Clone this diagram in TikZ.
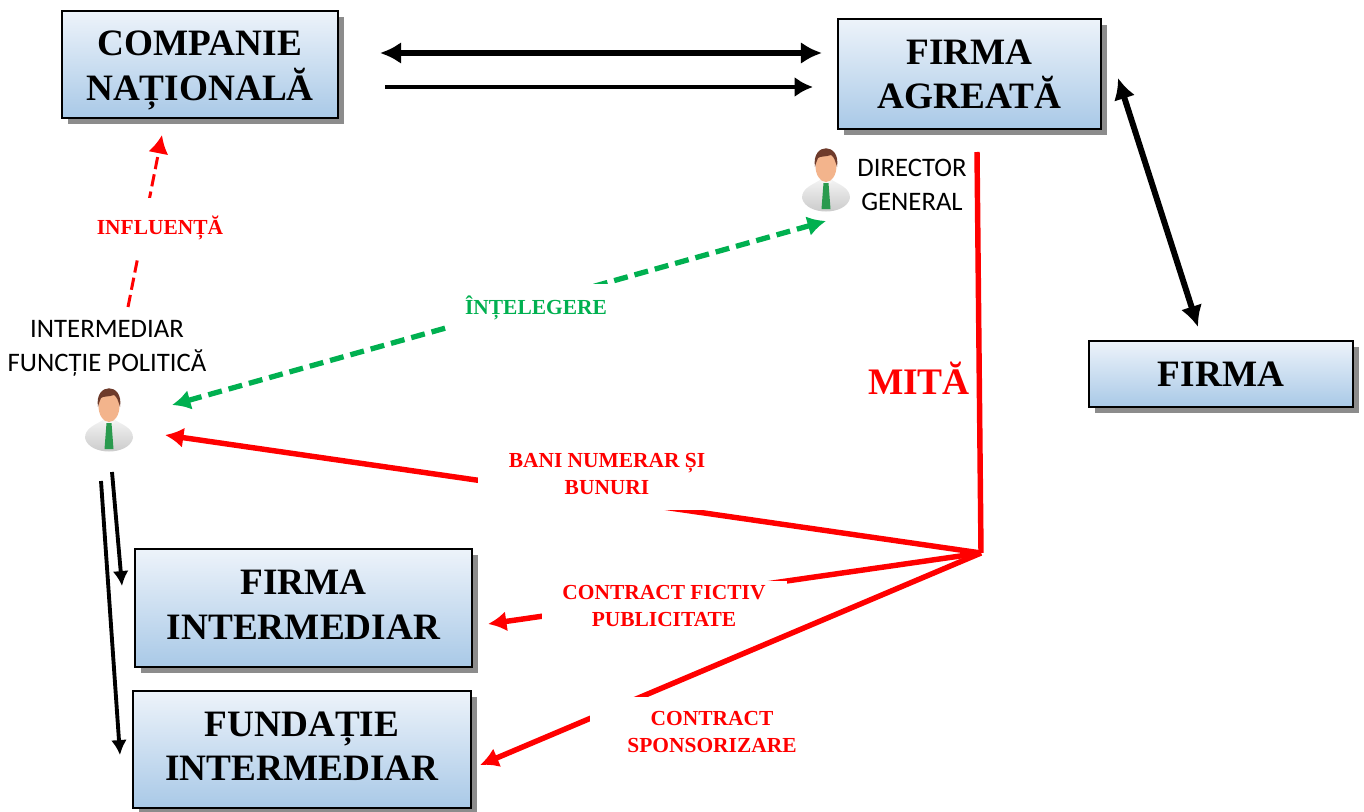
\documentclass[tikz,border=0pt]{standalone}
\usepackage{fontspec}
\setmainfont{Liberation Serif}
\newfontfamily\labelfont{Carlito}
\usetikzlibrary{arrows.meta,shadows}
\definecolor{boxtop}{HTML}{EDF3FA}
\definecolor{boxbot}{HTML}{A9C9E7}
\definecolor{mitared}{HTML}{FF0000}
\definecolor{dealgreen}{HTML}{00B050}
\definecolor{skin}{HTML}{F3B48C}
\definecolor{hair}{HTML}{6E3B2B}
\definecolor{tie}{HTML}{2A9A4E}
\tikzstyle{int}=[draw=black, line width=1.1pt, top color=boxtop, bottom color=boxbot, align=center, inner sep=0pt, font=\fontsize{21.2}{25.5}\selectfont\bfseries, general shadow={fill=black!45, shadow xshift=3.4pt, shadow yshift=-3.4pt}]
\tikzstyle{lab}=[fill=white, inner sep=0pt, align=center, text=mitared, font=\fontsize{12.2}{15.2}\selectfont\bfseries]
\tikzstyle{who}=[inner sep=0pt, align=center, font=\labelfont\fontsize{15.2}{19.3}\selectfont]
\tikzset{
  bigtip/.tip={Latex[length=12pt,width=12.5pt]},
  midtip/.tip={Latex[length=10.5pt,width=11.5pt]},
  smalltip/.tip={Latex[length=8.5pt,width=9pt]},
  blk/.style={black,line width=2.2pt},
  redl/.style={mitared,line width=3.1pt},
  person/.pic={
    \shade[top color=gray!10,bottom color=gray!45] (-24,18) .. controls (-24,8) and (-14,5) .. (-6,0) -- (6,0) .. controls (14,5) and (24,8) .. (24,18) .. controls (20,36) and (-20,36) .. (-24,18) -- cycle;
    \fill[white!92!gray] (-7,1) -- (0,7) -- (7,1) -- (4,-4) -- (-4,-4) -- cycle;
    \fill[tie] (-2.5,3) -- (2.5,3) -- (4.5,29) -- (-4.5,29) -- cycle;
    \fill[skin] (0,-14) ellipse (10.5 and 16);
    \fill[hair] (-11,-13) .. controls (-15,-38) and (15,-38) .. (11,-13) .. controls (9,-20) and (8,-23) .. (5,-25) .. controls (0,-23) and (-6,-24) .. (-8,-22) .. controls (-9,-20) and (-10,-17) .. (-11,-13) -- cycle;
  }
}
\begin{document}
\begin{tikzpicture}[x=0.02cm,y=-0.02cm,>=latex]
\useasboundingbox (0,0) rectangle (1364,811);

\node[int, minimum width=276*0.02cm, minimum height=107*0.02cm] at (200,64.5) (compania) {\rule{0pt}{22.95pt}COMPANIE\\\strut NAȚIONALĂ};
\node[int, minimum width=263*0.02cm, minimum height=110*0.02cm] at (969.5,74) (agreata) {\rule{0pt}{21.85pt}FIRMA\\\strut AGREATĂ};
\node[int, minimum width=264*0.02cm, minimum height=66*0.02cm] at (1221,374) (firma) {FIRMA};
\node[int, minimum width=337*0.02cm, minimum height=118*0.02cm] at (303.5,608) (firmaint) {\strut FIRMA\\\strut INTERMEDIAR};
\node[int, minimum width=338*0.02cm, minimum height=117*0.02cm] at (302,749.5) (fundatie) {\strut FUNDAȚIE\\\strut INTERMEDIAR};

\pic at (826,180) {person};
\pic at (109,420) {person};
\node[who] at (912,184.5) (director) {DIRECTOR\\GENERAL};
\node[who] at (107,348) (politic) {INTERMEDIAR\\FUNCȚIE POLITICĂ};

% free ends of the connectors
\coordinate (cn1) at (380,53);
\coordinate (fa1) at (822,53);
\coordinate (cn2) at (385,87);
\coordinate (fa2) at (813,87);
\coordinate (fa3) at (1118,78);
\coordinate (fi3) at (1198,327);
\coordinate (pol1) at (128,307);
\coordinate (cn3) at (162,135);
\coordinate (pol2) at (172,405);
\coordinate (dir1) at (826,221);
\coordinate (pol3) at (165,435);
\coordinate (pol4) at (112,472);
\coordinate (pol5) at (101,481);
\coordinate (fi4) at (122,586);
\coordinate (fu4) at (120,755);
\coordinate (mita1) at (977,152);
\coordinate (mita2) at (981,553);
\coordinate (fi5) at (488,624);
\coordinate (fu5) at (480,765);

\draw[{bigtip}-{bigtip},line width=3.4pt] (cn1) -- (fa1);
\draw[-{midtip},blk,line width=2.6pt] (cn2) -- (fa2);
\draw[{bigtip}-{bigtip},line width=3.4pt] (fa3) -- (fi3);

\draw[-{midtip},mitared,dash pattern=on 7pt off 3pt,line width=1.7pt] (pol1) -- (cn3);
\draw[{midtip}-{midtip},dealgreen,dash pattern=on 8pt off 4pt,line width=3pt] (pol2) -- (dir1);

\draw[redl] (mita1) -- (mita2);
\draw[-{midtip},redl] (mita2) -- (pol3);
\draw[-{midtip},redl] (mita2) -- (fi5);
\draw[-{midtip},redl] (mita2) -- (fu5);

\draw[-{smalltip},blk] (pol4) -- (fi4);
\draw[-{smalltip},blk] (pol5) -- (fu4);

\node[lab, minimum width=125*0.02cm, minimum height=60*0.02cm] at (160,228) (influenta) {INFLUENȚĂ};
\node[lab, text=dealgreen, minimum width=172*0.02cm, minimum height=48*0.02cm] at (536,307.5) (intelegere) {ÎNȚELEGERE};
\node[lab, minimum width=258*0.02cm, minimum height=72*0.02cm] at (607,474) (bani) {BANI NUMERAR ȘI\\BUNURI};
\node[lab, minimum width=245*0.02cm, minimum height=50*0.02cm] at (664,606) (fictiv) {CONTRACT FICTIV\\PUBLICITATE};
\node[lab, minimum width=245*0.02cm, minimum height=70*0.02cm] at (712,732) (sponsor) {CONTRACT\\SPONSORIZARE};
\node[text=mitared, inner sep=0pt, font=\fontsize{21.3}{25}\selectfont\bfseries] at (919,378) (mita) {MITĂ};
\end{tikzpicture}
\end{document}
